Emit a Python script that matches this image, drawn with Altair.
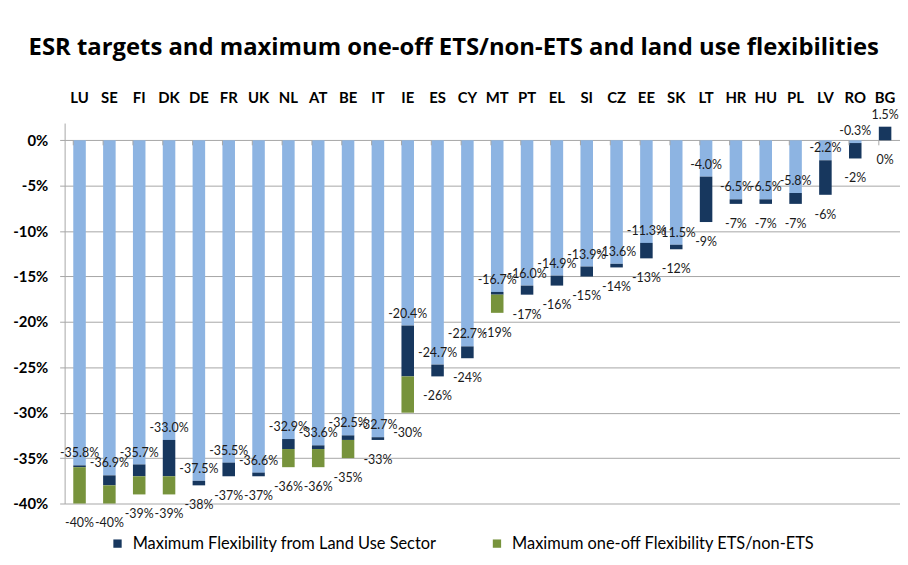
import altair as alt
import pandas as pd

countries = ["LU", "SE", "FI", "DK", "DE", "FR", "UK", "NL", "AT", "BE", "IT", "IE", "ES", "CY",
             "MT", "PT", "EL", "SI", "CZ", "EE", "SK", "LT", "HR", "HU", "PL", "LV", "RO", "BG"]
targets = [-40, -40, -39, -39, -38, -37, -37, -36, -36, -35, -33, -30, -26, -24,
           -19, -17, -16, -15, -14, -13, -12, -9, -7, -7, -7, -6, -2, 0]
land_use = [0.2, 1.1, 1.3, 4.0, 0.5, 1.5, 0.4, 1.1, 0.4, 0.5, 0.3, 5.6, 1.3, 1.3,
            0.3, 1.0, 1.1, 1.1, 0.4, 1.7, 0.5, 5.0, 0.5, 0.5, 1.2, 3.8, 1.7, 1.5]
ets_flex = [4, 2, 2, 2, 0, 0, 0, 2, 2, 2, 0, 4, 0, 0,
            2, 0, 0, 0, 0, 0, 0, 0, 0, 0, 0, 0, 0, 0]

S_ESR = "ESR target"
S_LU = "Maximum Flexibility from Land Use Sector"
S_ETS = "Maximum one-off Flexibility ETS/non-ETS"

bar_rows = []
lab_rows = []
for c, t, l, e in zip(countries, targets, land_use, ets_flex):
    mid = round(t + e, 2)
    eff = round(t + e + l, 2)
    if eff < 0:
        bar_rows.append(dict(country=c, series=S_ESR, lo=eff, hi=0))
    if l != 0:
        bar_rows.append(dict(country=c, series=S_LU, lo=mid, hi=eff))
    if e != 0:
        bar_rows.append(dict(country=c, series=S_ETS, lo=t, hi=mid))
    lab_rows.append(dict(country=c, eff=eff, eff_label=f"{eff:.1f}%",
                         total=t, total_label=f"{t:.0f}%"))

bars_df = pd.DataFrame(bar_rows)
labs_df = pd.DataFrame(lab_rows)

FONT = "Lato"
GRID = "#A6A6A6"

xenc = alt.X("country:N", sort=countries,
             scale=alt.Scale(paddingInner=0.58, paddingOuter=0.29),
             axis=alt.Axis(orient="top", title=None, domain=False, ticks=False, labelAngle=0,
                           labelFont=FONT, labelFontWeight="bold", labelFontSize=15,
                           labelColor="black", labelPadding=18))
yscale = alt.Scale(domain=[-40, 1.9], nice=False, zero=False)

bars = alt.Chart(bars_df).mark_bar().encode(
    x=xenc,
    y=alt.Y("lo:Q", scale=yscale,
            axis=alt.Axis(values=list(range(-40, 1, 5)), labelExpr="datum.value + '%'",
                          grid=True, gridColor=GRID, domainColor=GRID, tickColor=GRID,
                          tickSize=5, labelFont=FONT, labelFontSize=15, labelFontWeight="bold",
                          labelColor="black", labelPadding=12, title=None)),
    y2="hi:Q",
    color=alt.Color("series:N",
                    scale=alt.Scale(domain=[S_ESR, S_LU, S_ETS],
                                    range=["#8DB4E2", "#17375E", "#77933C"]),
                    legend=alt.Legend(values=[S_LU, S_ETS], orient="none", legendX=45, legendY=415,
                                      direction="horizontal", title=None, symbolType="square",
                                      symbolSize=70, symbolStrokeWidth=0, labelFont=FONT,
                                      labelFontSize=16.5, labelColor="black", columnPadding=52,
                                      labelOffset=7, labelLimit=500)),
)

cat_ticks = alt.Chart(labs_df).mark_rule(color=GRID).encode(
    x=alt.X("country:N", sort=countries, bandPosition=0),
    y=alt.datum(0),
    y2=alt.datum(-0.55),
)

eff_text = alt.Chart(labs_df).mark_text(dy=-12, font=FONT, fontSize=12.5, color="#1a1a1a").encode(
    x=alt.X("country:N", sort=countries),
    y=alt.Y("eff:Q"),
    text="eff_label:N",
)

tot_text = alt.Chart(labs_df).mark_text(dy=20, font=FONT, fontSize=12.5, color="#1a1a1a").encode(
    x=alt.X("country:N", sort=countries),
    y=alt.Y("total:Q"),
    text="total_label:N",
)

chart = alt.layer(bars, cat_ticks, eff_text, tot_text).properties(
    width=841, height=383,
    autosize=alt.AutoSizeParams(type="none"),
    padding={"left": 57, "top": 114, "right": 0, "bottom": 50},
    title=alt.Title("ESR targets and maximum one-off ETS/non-ETS and land use flexibilities",
                    anchor="start", font="Open Sans", fontSize=24, fontWeight="bold", color="black",
                    dx=16, offset=31),
).configure_view(stroke=None)

chart.save("out.html", embed_options={"renderer": "svg", "actions": False})
